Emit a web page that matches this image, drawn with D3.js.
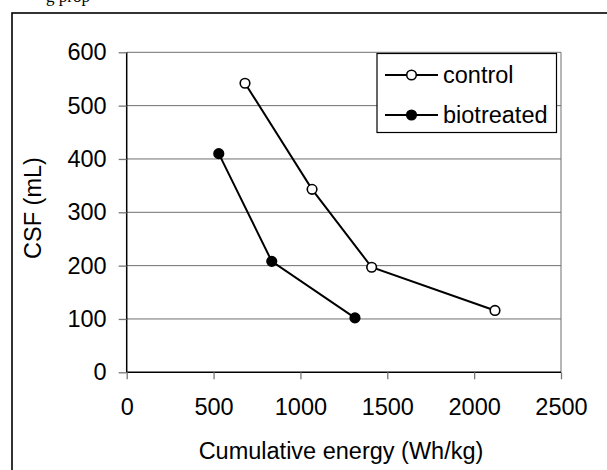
<!DOCTYPE html>
<html><head><meta charset="utf-8">
<script src="https://cdn.jsdelivr.net/npm/d3@7/dist/d3.min.js"></script>
<style>body{margin:0;background:#fff}svg{display:block}</style>
</head><body>
<script>
const xTicks = [0, 500, 1000, 1500, 2000, 2500];
const yTicks = [0, 100, 200, 300, 400, 500, 600];
const seriesNames = ["control", "biotreated"];
const controlX = [681, 1067, 1410, 2120];
const controlY = [542, 343, 197, 116];
const bioX = [530, 835, 1314];
const bioY = [410, 208, 102];

const W = 607, H = 470;
const svg = d3.select("body").append("svg").attr("width", W).attr("height", H);
const font = "Liberation Sans, Arial, sans-serif";
const fs = 23.5;

// clipped document text at top
svg.append("text").attr("x", 46).attr("y", 1.5).attr("font-family", "Liberation Serif, Times New Roman, serif")
  .attr("font-size", 17).text("g prop");

// outer frame
svg.append("rect").attr("x", 12).attr("y", 13).attr("width", 640).attr("height", 520)
  .attr("fill", "none").attr("stroke", "#000").attr("stroke-width", 1.6);

const x = d3.scaleLinear().domain([0, 2500]).range([126.7, 561]);
const y = d3.scaleLinear().domain([0, 600]).range([372.3, 52.3]);

// gridlines
svg.append("g").selectAll("line").data(yTicks.filter(d => d > 0)).join("line")
  .attr("x1", x(0)).attr("x2", x(2500)).attr("y1", d => y(d)).attr("y2", d => y(d))
  .attr("stroke", "#6e6e6e").attr("stroke-width", 1);
// plot area right border
svg.append("line").attr("x1", x(2500)).attr("x2", x(2500)).attr("y1", y(600)).attr("y2", y(0))
  .attr("stroke", "#6e6e6e").attr("stroke-width", 1);

// axes
const yAxis = svg.append("g").attr("transform", `translate(${x(0)},0)`)
  .call(d3.axisLeft(y).tickValues(yTicks).tickSize(8).tickPadding(12).tickFormat(d3.format("d")));
const xAxis = svg.append("g").attr("transform", `translate(0,${y(0)})`)
  .call(d3.axisBottom(x).tickValues(xTicks).tickSize(7).tickPadding(19).tickFormat(d3.format("d")));
[yAxis, xAxis].forEach(a => {
  a.attr("font-size", fs).attr("font-family", font);
  a.select(".domain").attr("stroke", "#000").attr("stroke-width", 1.5);
  a.selectAll(".tick line").attr("stroke", "#777").attr("stroke-width", 1.3);
  a.selectAll("text").attr("font-family", font).attr("font-size", fs).attr("fill", "#000");
});
yAxis.select(".domain").attr("d", `M0,${y(0)}V${y(600)}`);
xAxis.select(".domain").attr("d", `M${x(0)},0H${x(2500)}`);

// axis titles
svg.append("text").attr("x", 341).attr("y", 459).attr("text-anchor", "middle")
  .attr("font-family", font).attr("font-size", fs).text("Cumulative energy (Wh/kg)");
svg.append("text").attr("transform", "translate(40.5,208) rotate(-90)").attr("text-anchor", "middle")
  .attr("font-family", font).attr("font-size", fs).text("CSF (mL)");

// series
const line = d3.line().x(d => x(d[0])).y(d => y(d[1]));
const control = controlX.map((v, i) => [v, controlY[i]]);
const bio = bioX.map((v, i) => [v, bioY[i]]);
[[control, "#fff"], [bio, "#000"]].forEach(([data, fill]) => {
  svg.append("path").datum(data).attr("d", line).attr("fill", "none").attr("stroke", "#000").attr("stroke-width", 2);
  svg.append("g").selectAll("circle").data(data).join("circle")
    .attr("cx", d => x(d[0])).attr("cy", d => y(d[1])).attr("r", 4.8)
    .attr("fill", fill).attr("stroke", "#000").attr("stroke-width", 1.6);
});

// legend
const lg = svg.append("g");
lg.append("rect").attr("x", 377).attr("y", 53.5).attr("width", 179.5).attr("height", 79)
  .attr("fill", "#fff").attr("stroke", "#000").attr("stroke-width", 1.2);
const fills = ["#fff", "#000"];
seriesNames.forEach((name, i) => {
  const cy = 75 + i * 40;
  lg.append("line").attr("x1", 385).attr("x2", 438).attr("y1", cy).attr("y2", cy)
    .attr("stroke", "#000").attr("stroke-width", 2);
  lg.append("circle").attr("cx", 411.5).attr("cy", cy).attr("r", 4.8)
    .attr("fill", fills[i]).attr("stroke", "#000").attr("stroke-width", 1.6);
  lg.append("text").attr("x", 443).attr("y", cy + 7.5).attr("font-family", font).attr("font-size", fs).text(name);
});
</script>
</body></html>
